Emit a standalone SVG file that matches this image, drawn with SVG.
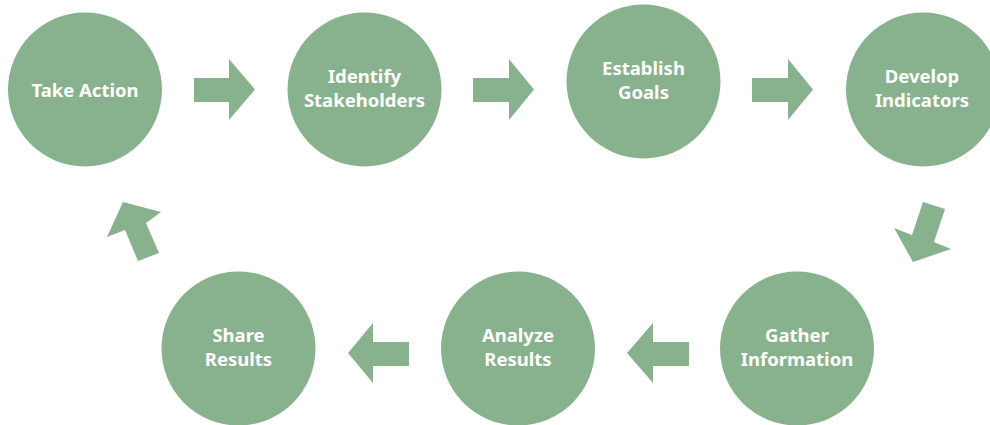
<svg xmlns="http://www.w3.org/2000/svg" width="990" height="425" viewBox="0 0 990 425">
  <style>
    .step { fill: #88b28d; }
    .flow { fill: #88b28d; }
    .label { fill: #ffffff; font-family: "Noto Sans", "Liberation Sans", sans-serif; font-weight: bold; font-size: 18.5px; text-anchor: middle; }
  </style>
  <rect width="990" height="425" fill="#ffffff"/>

  <!-- cycle arrows -->
  <g id="connectors">
    <polygon class="flow" points="194,78 229,78 229,59 255,89.5 229,120 229,102 194,102"/>
    <polygon class="flow" points="473,78 509,78 509,59 534,89.5 509,120 509,102 473,102"/>
    <polygon class="flow" points="752,78 788,78 788,59 813,89.5 788,120 788,102 752,102"/>
    <polygon class="flow" points="923,202 945,209 934,242 951,249 913,262 894,228 912,235"/>
    <polygon class="flow" points="689,342 653,342 653,323 627,353 653,383 653,366 689,366"/>
    <polygon class="flow" points="409,342 373,342 373,323 348,353 373,383 373,366 409,366"/>
    <polygon class="flow" points="123,202 161,212 146,223 159,253 138,261 125,230 107,237"/>
  </g>

  <g id="take-action">
    <circle class="step" cx="85" cy="89.5" r="77"/>
    <text class="label" x="85" y="97">Take Action</text>
  </g>
  <g id="identify-stakeholders">
    <circle class="step" cx="364.5" cy="89.5" r="77"/>
    <text class="label" x="364.5" y="83">Identify</text>
    <text class="label" x="364.5" y="107">Stakeholders</text>
  </g>
  <g id="establish-goals">
    <circle class="step" cx="643.5" cy="81.5" r="77"/>
    <text class="label" x="643.5" y="75">Establish</text>
    <text class="label" x="643.5" y="99">Goals</text>
  </g>
  <g id="develop-indicators">
    <circle class="step" cx="923" cy="89.5" r="77"/>
    <text class="label" x="922" y="83">Develop</text>
    <text class="label" x="922" y="107">Indicators</text>
  </g>
  <g id="gather-information">
    <circle class="step" cx="797" cy="348.5" r="77"/>
    <text class="label" x="797" y="342">Gather</text>
    <text class="label" x="797" y="366">Information</text>
  </g>
  <g id="analyze-results">
    <circle class="step" cx="518" cy="348.5" r="77"/>
    <text class="label" x="518" y="342">Analyze</text>
    <text class="label" x="518" y="366">Results</text>
  </g>
  <g id="share-results">
    <circle class="step" cx="238.5" cy="348.5" r="77"/>
    <text class="label" x="238.5" y="342">Share</text>
    <text class="label" x="238.5" y="366">Results</text>
  </g>
</svg>
